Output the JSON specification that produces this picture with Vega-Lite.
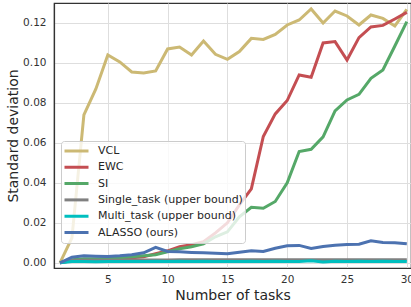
{
  "$schema": "https://vega.github.io/schema/vega-lite/v6.json",
  "autosize": "none",
  "width": 357,
  "height": 265,
  "padding": {"left": 54, "top": 3, "right": 0, "bottom": 39},
  "background": "white",
  "config": {
    "font": "DejaVu Sans",
    "view": {"stroke": "#333333", "strokeWidth": 1.2},
    "axis": {
      "grid": true,
      "gridColor": "#dedede",
      "gridWidth": 1,
      "domainColor": "#333333",
      "domainWidth": 1.2,
      "ticks": false,
      "labelFont": "DejaVu Sans",
      "labelFontSize": 10.5,
      "labelColor": "#333333",
      "titleFont": "DejaVu Sans",
      "titleFontSize": 14,
      "titleFontWeight": "normal",
      "titleColor": "#262626"
    }
  },
  "data": {"values": [
    {"task":1,"method":"VCL","sd":0},{"task":2,"method":"VCL","sd":0.0125},{"task":3,"method":"VCL","sd":0.074},{"task":4,"method":"VCL","sd":0.087},{"task":5,"method":"VCL","sd":0.104},{"task":6,"method":"VCL","sd":0.1005},{"task":7,"method":"VCL","sd":0.0955},{"task":8,"method":"VCL","sd":0.095},{"task":9,"method":"VCL","sd":0.096},{"task":10,"method":"VCL","sd":0.107},{"task":11,"method":"VCL","sd":0.108},{"task":12,"method":"VCL","sd":0.104},{"task":13,"method":"VCL","sd":0.111},{"task":14,"method":"VCL","sd":0.1043},{"task":15,"method":"VCL","sd":0.1018},{"task":16,"method":"VCL","sd":0.1057},{"task":17,"method":"VCL","sd":0.1123},{"task":18,"method":"VCL","sd":0.1118},{"task":19,"method":"VCL","sd":0.1143},{"task":20,"method":"VCL","sd":0.119},{"task":21,"method":"VCL","sd":0.1215},{"task":22,"method":"VCL","sd":0.127},{"task":23,"method":"VCL","sd":0.12},{"task":24,"method":"VCL","sd":0.126},{"task":25,"method":"VCL","sd":0.1235},{"task":26,"method":"VCL","sd":0.119},{"task":27,"method":"VCL","sd":0.124},{"task":28,"method":"VCL","sd":0.1223},{"task":29,"method":"VCL","sd":0.1185},{"task":30,"method":"VCL","sd":0.1268},
    {"task":1,"method":"EWC","sd":0},{"task":2,"method":"EWC","sd":0.001},{"task":3,"method":"EWC","sd":0.0012},{"task":4,"method":"EWC","sd":0.0015},{"task":5,"method":"EWC","sd":0.0018},{"task":6,"method":"EWC","sd":0.002},{"task":7,"method":"EWC","sd":0.0025},{"task":8,"method":"EWC","sd":0.003},{"task":9,"method":"EWC","sd":0.0045},{"task":10,"method":"EWC","sd":0.006},{"task":11,"method":"EWC","sd":0.008},{"task":12,"method":"EWC","sd":0.009},{"task":13,"method":"EWC","sd":0.0105},{"task":14,"method":"EWC","sd":0.015},{"task":15,"method":"EWC","sd":0.02},{"task":16,"method":"EWC","sd":0.029},{"task":17,"method":"EWC","sd":0.037},{"task":18,"method":"EWC","sd":0.0632},{"task":19,"method":"EWC","sd":0.0745},{"task":20,"method":"EWC","sd":0.0812},{"task":21,"method":"EWC","sd":0.094},{"task":22,"method":"EWC","sd":0.0928},{"task":23,"method":"EWC","sd":0.11},{"task":24,"method":"EWC","sd":0.1107},{"task":25,"method":"EWC","sd":0.1015},{"task":26,"method":"EWC","sd":0.1127},{"task":27,"method":"EWC","sd":0.118},{"task":28,"method":"EWC","sd":0.1188},{"task":29,"method":"EWC","sd":0.122},{"task":30,"method":"EWC","sd":0.1253},
    {"task":1,"method":"SI","sd":0},{"task":2,"method":"SI","sd":0.0015},{"task":3,"method":"SI","sd":0.002},{"task":4,"method":"SI","sd":0.002},{"task":5,"method":"SI","sd":0.0022},{"task":6,"method":"SI","sd":0.0025},{"task":7,"method":"SI","sd":0.003},{"task":8,"method":"SI","sd":0.0035},{"task":9,"method":"SI","sd":0.004},{"task":10,"method":"SI","sd":0.0055},{"task":11,"method":"SI","sd":0.007},{"task":12,"method":"SI","sd":0.008},{"task":13,"method":"SI","sd":0.0095},{"task":14,"method":"SI","sd":0.013},{"task":15,"method":"SI","sd":0.0155},{"task":16,"method":"SI","sd":0.023},{"task":17,"method":"SI","sd":0.0278},{"task":18,"method":"SI","sd":0.0273},{"task":19,"method":"SI","sd":0.0307},{"task":20,"method":"SI","sd":0.04},{"task":21,"method":"SI","sd":0.0557},{"task":22,"method":"SI","sd":0.0568},{"task":23,"method":"SI","sd":0.063},{"task":24,"method":"SI","sd":0.076},{"task":25,"method":"SI","sd":0.0815},{"task":26,"method":"SI","sd":0.0843},{"task":27,"method":"SI","sd":0.0923},{"task":28,"method":"SI","sd":0.0965},{"task":29,"method":"SI","sd":0.1085},{"task":30,"method":"SI","sd":0.1207},
    {"task":1,"method":"Single_task (upper bound)","sd":0},{"task":2,"method":"Single_task (upper bound)","sd":0.0012},{"task":3,"method":"Single_task (upper bound)","sd":0.0013},{"task":4,"method":"Single_task (upper bound)","sd":0.0013},{"task":5,"method":"Single_task (upper bound)","sd":0.0013},{"task":6,"method":"Single_task (upper bound)","sd":0.0013},{"task":7,"method":"Single_task (upper bound)","sd":0.0014},{"task":8,"method":"Single_task (upper bound)","sd":0.0014},{"task":9,"method":"Single_task (upper bound)","sd":0.0014},{"task":10,"method":"Single_task (upper bound)","sd":0.0014},{"task":11,"method":"Single_task (upper bound)","sd":0.0015},{"task":12,"method":"Single_task (upper bound)","sd":0.0015},{"task":13,"method":"Single_task (upper bound)","sd":0.0015},{"task":14,"method":"Single_task (upper bound)","sd":0.0015},{"task":15,"method":"Single_task (upper bound)","sd":0.0015},{"task":16,"method":"Single_task (upper bound)","sd":0.0015},{"task":17,"method":"Single_task (upper bound)","sd":0.0015},{"task":18,"method":"Single_task (upper bound)","sd":0.0015},{"task":19,"method":"Single_task (upper bound)","sd":0.0015},{"task":20,"method":"Single_task (upper bound)","sd":0.0015},{"task":21,"method":"Single_task (upper bound)","sd":0.0015},{"task":22,"method":"Single_task (upper bound)","sd":0.0015},{"task":23,"method":"Single_task (upper bound)","sd":0.0015},{"task":24,"method":"Single_task (upper bound)","sd":0.0015},{"task":25,"method":"Single_task (upper bound)","sd":0.0015},{"task":26,"method":"Single_task (upper bound)","sd":0.0015},{"task":27,"method":"Single_task (upper bound)","sd":0.0015},{"task":28,"method":"Single_task (upper bound)","sd":0.0015},{"task":29,"method":"Single_task (upper bound)","sd":0.0015},{"task":30,"method":"Single_task (upper bound)","sd":0.0015},
    {"task":1,"method":"Multi_task (upper bound)","sd":0},{"task":2,"method":"Multi_task (upper bound)","sd":0.0006},{"task":3,"method":"Multi_task (upper bound)","sd":0.0006},{"task":4,"method":"Multi_task (upper bound)","sd":0.0005},{"task":5,"method":"Multi_task (upper bound)","sd":0.0006},{"task":6,"method":"Multi_task (upper bound)","sd":0.0007},{"task":7,"method":"Multi_task (upper bound)","sd":0.0006},{"task":8,"method":"Multi_task (upper bound)","sd":0.0007},{"task":9,"method":"Multi_task (upper bound)","sd":0.0008},{"task":10,"method":"Multi_task (upper bound)","sd":0.0007},{"task":11,"method":"Multi_task (upper bound)","sd":0.0008},{"task":12,"method":"Multi_task (upper bound)","sd":0.0007},{"task":13,"method":"Multi_task (upper bound)","sd":0.0008},{"task":14,"method":"Multi_task (upper bound)","sd":0.0007},{"task":15,"method":"Multi_task (upper bound)","sd":0.0006},{"task":16,"method":"Multi_task (upper bound)","sd":0.0007},{"task":17,"method":"Multi_task (upper bound)","sd":0.0008},{"task":18,"method":"Multi_task (upper bound)","sd":0.0007},{"task":19,"method":"Multi_task (upper bound)","sd":0.0008},{"task":20,"method":"Multi_task (upper bound)","sd":0.0007},{"task":21,"method":"Multi_task (upper bound)","sd":0.0006},{"task":22,"method":"Multi_task (upper bound)","sd":0.001},{"task":23,"method":"Multi_task (upper bound)","sd":0.0004},{"task":24,"method":"Multi_task (upper bound)","sd":0.0008},{"task":25,"method":"Multi_task (upper bound)","sd":0.0007},{"task":26,"method":"Multi_task (upper bound)","sd":0.0008},{"task":27,"method":"Multi_task (upper bound)","sd":0.0007},{"task":28,"method":"Multi_task (upper bound)","sd":0.0008},{"task":29,"method":"Multi_task (upper bound)","sd":0.0007},{"task":30,"method":"Multi_task (upper bound)","sd":0.0007},
    {"task":1,"method":"ALASSO (ours)","sd":0},{"task":2,"method":"ALASSO (ours)","sd":0.0028},{"task":3,"method":"ALASSO (ours)","sd":0.0035},{"task":4,"method":"ALASSO (ours)","sd":0.0033},{"task":5,"method":"ALASSO (ours)","sd":0.0032},{"task":6,"method":"ALASSO (ours)","sd":0.0035},{"task":7,"method":"ALASSO (ours)","sd":0.004},{"task":8,"method":"ALASSO (ours)","sd":0.005},{"task":9,"method":"ALASSO (ours)","sd":0.0077},{"task":10,"method":"ALASSO (ours)","sd":0.0057},{"task":11,"method":"ALASSO (ours)","sd":0.0055},{"task":12,"method":"ALASSO (ours)","sd":0.0052},{"task":13,"method":"ALASSO (ours)","sd":0.005},{"task":14,"method":"ALASSO (ours)","sd":0.0048},{"task":15,"method":"ALASSO (ours)","sd":0.0045},{"task":16,"method":"ALASSO (ours)","sd":0.0053},{"task":17,"method":"ALASSO (ours)","sd":0.006},{"task":18,"method":"ALASSO (ours)","sd":0.0057},{"task":19,"method":"ALASSO (ours)","sd":0.0073},{"task":20,"method":"ALASSO (ours)","sd":0.0085},{"task":21,"method":"ALASSO (ours)","sd":0.0087},{"task":22,"method":"ALASSO (ours)","sd":0.0072},{"task":23,"method":"ALASSO (ours)","sd":0.0082},{"task":24,"method":"ALASSO (ours)","sd":0.0088},{"task":25,"method":"ALASSO (ours)","sd":0.0092},{"task":26,"method":"ALASSO (ours)","sd":0.0093},{"task":27,"method":"ALASSO (ours)","sd":0.011},{"task":28,"method":"ALASSO (ours)","sd":0.0102},{"task":29,"method":"ALASSO (ours)","sd":0.01},{"task":30,"method":"ALASSO (ours)","sd":0.0095}
  ]},
  "mark": {"type": "line", "strokeWidth": 3, "clip": true},
  "encoding": {
    "x": {
      "field": "task", "type": "quantitative",
      "scale": {"domain": [0.5, 30.35], "nice": false, "zero": false},
      "axis": {"values": [5, 10, 15, 20, 25, 30], "title": "Number of tasks", "labelPadding": 6, "titlePadding": 4}
    },
    "y": {
      "field": "sd", "type": "quantitative",
      "scale": {"domain": [-0.0026, 0.13], "nice": false, "zero": false},
      "axis": {"values": [0, 0.02, 0.04, 0.06, 0.08, 0.1, 0.12], "format": ".2f", "title": "Standard deviation", "labelPadding": 8, "titlePadding": 2}
    },
    "color": {
      "field": "method", "type": "nominal",
      "scale": {
        "domain": ["VCL", "EWC", "SI", "Single_task (upper bound)", "Multi_task (upper bound)", "ALASSO (ours)"],
        "range": ["#CCB974", "#C44E52", "#55A868", "#808080", "#00BFBF", "#4C72B0"]
      },
      "legend": {
        "title": null,
        "orient": "none",
        "legendX": 7,
        "legendY": 138,
        "symbolType": "stroke",
        "symbolSize": 576,
        "symbolStrokeWidth": 3,
        "clipHeight": 16,
        "labelFont": "DejaVu Sans",
        "labelFontSize": 11,
        "labelColor": "#262626",
        "labelOffset": 8,
        "rowPadding": 0.3,
        "padding": 2,
        "fillColor": "rgba(255,255,255,0.8)",
        "strokeColor": "#cccccc",
        "cornerRadius": 3
      }
    },
    "order": {"field": "task", "type": "quantitative"}
  }
}
